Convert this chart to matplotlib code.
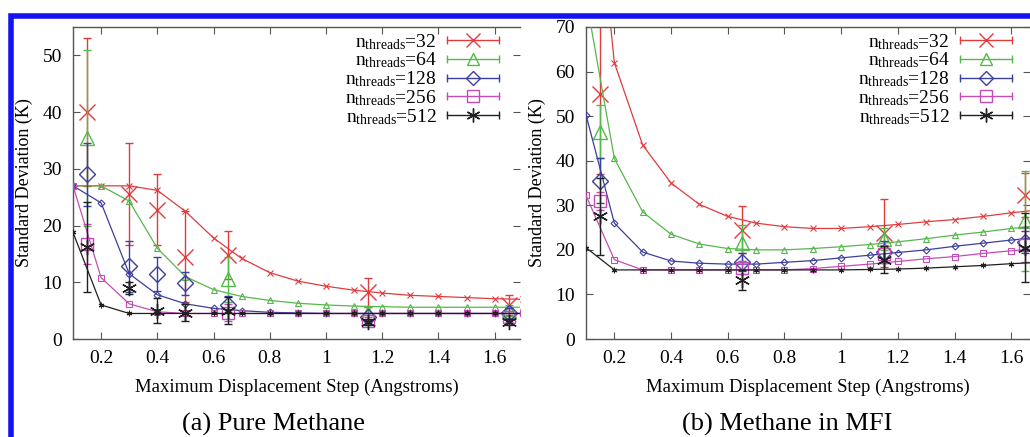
import matplotlib
matplotlib.use('Agg')
import matplotlib.pyplot as plt
from matplotlib.lines import Line2D
from matplotlib.patches import Rectangle
from matplotlib.legend_handler import HandlerLine2D, HandlerTuple

# step sizes used for the fitted curves
steps = [0.1, 0.2, 0.3, 0.4, 0.5, 0.6, 0.7, 0.8, 0.9, 1.0, 1.1, 1.2, 1.3, 1.4, 1.5, 1.6, 1.7]
thread_counts = [32, 64, 128, 256, 512]

# (a) pure methane, curves
pure_32 = [27, 27, 27, 26.2, 22.5, 17.8, 14.2, 11.7, 10.2, 9.3, 8.6, 8.1, 7.7, 7.5, 7.3, 7.1, 7.0]
pure_64 = [27, 27, 24.3, 16, 11, 8.7, 7.5, 6.8, 6.3, 6.0, 5.8, 5.7, 5.6, 5.6, 5.6, 5.6, 5.6]
pure_128 = [27, 24, 11.5, 7.8, 6.2, 5.4, 5.0, 4.7, 4.6, 4.5, 4.5, 4.5, 4.5, 4.5, 4.5, 4.5, 4.5]
pure_256 = [27, 10.8, 6.2, 4.8, 4.5, 4.5, 4.5, 4.5, 4.5, 4.5, 4.5, 4.5, 4.5, 4.5, 4.5, 4.5, 4.5]
pure_512 = [18.8, 6.0, 4.5, 4.5, 4.5, 4.5, 4.5, 4.5, 4.5, 4.5, 4.5, 4.5, 4.5, 4.5, 4.5, 4.5, 4.5]

# (a) pure methane, measured points with error bars
pure_x_full = [0.15, 0.3, 0.4, 0.5, 0.65, 1.15, 1.65]
pure_x_part = [0.15, 0.65, 1.15, 1.65]
pure_meas_32 = [40, 25.5, 22.8, 14.5, 14.8, 8.2, 6.0]
pure_err_32 = [13, 9, 6.2, 8, 4.2, 2.5, 1.8]
pure_meas_64 = [35.5, 10.5, 4.5, 5.0]
pure_err_64 = [15.5, 4, 1.2, 1]
pure_meas_128 = [29, 12.8, 11.5, 9.8, 6.0, 3.8, 4.5]
pure_err_128 = [5.5, 4.5, 3, 2, 1.5, 0.8, 1]
pure_meas_256 = [16.7, 4.6, 3.2, 3.8]
pure_err_256 = [3.5, 1.5, 0.6, 0.8]
pure_meas_512 = [16.2, 9.0, 5.0, 4.6, 5.0, 3.0, 3.0]
pure_err_512 = [7.9, 1, 2.2, 1.5, 2.4, 0.5, 0.6]

# (b) methane in MFI, curves
mfi_32 = [125, 62, 43.5, 35, 30.2, 27.5, 26, 25.2, 24.8, 24.8, 25.2, 25.7, 26.3, 26.8, 27.5, 28.3, 29]
mfi_64 = [76.5, 40.5, 28.5, 23.5, 21.3, 20.3, 20, 20, 20.3, 20.7, 21.2, 21.8, 22.5, 23.3, 24, 24.8, 25.5]
mfi_128 = [50.3, 26, 19.5, 17.5, 17, 16.8, 16.8, 17.2, 17.6, 18.2, 18.8, 19.4, 20, 20.8, 21.5, 22.2, 22.8]
mfi_256 = [32.2, 17.8, 15.5, 15.5, 15.5, 15.5, 15.5, 15.5, 15.8, 16.3, 16.8, 17.4, 18, 18.5, 19.2, 19.8, 20.3]
mfi_512 = [20.5, 15.5, 15.5, 15.5, 15.5, 15.5, 15.5, 15.5, 15.5, 15.5, 15.6, 15.7, 15.9, 16.2, 16.5, 16.9, 17.2]

# (b) methane in MFI, measured points
mfi_x = [0.15, 0.65, 1.15, 1.65]
mfi_meas_32 = [55, 24.5, 23.8, 32.3]
mfi_err_32 = [18, 5.3, 7.7, 5]
mfi_meas_64 = [46.5, 21.5, 22.5, 26.5]
mfi_err_64 = [6, 4, 2.5, 11.3]
mfi_meas_128 = [35.5, 17.3, 19.5, 21.7]
mfi_err_128 = [5, 2, 2.5, 2.5]
mfi_meas_256 = [31, 16, 19, 21.2]
mfi_err_256 = [2, 1.5, 2, 4]
mfi_meas_512 = [27.5, 13.3, 17.8, 20.5]
mfi_err_512 = [8.7, 2.2, 3, 7.7]

colors = ['#e23b3e', '#55b84a', '#3b3f9e', '#c44db5', '#202020']
markers = ['x', '^', 'D', 's', (6, 2, 0)]
big_sizes = [11, 10, 8, 9, 11]
small_sizes = [4, 4, 3.5, 4, 4]

plt.rcParams['font.family'] = 'Liberation Serif'
plt.rcParams['mathtext.fontset'] = 'custom'
plt.rcParams['mathtext.rm'] = 'Liberation Serif'
plt.rcParams['mathtext.it'] = 'Liberation Serif:italic'

W, H = 1030, 437


def draw_panel(fig, rect, xlim, ylim, yticks, curves, meas, legend_x):
    ax = fig.add_axes(rect)
    handles = []
    for i in range(5):
        c = colors[i]
        ax.plot(steps, curves[i], color=c, lw=0.9, marker=markers[i], ms=small_sizes[i],
                mfc='none', mew=0.8, zorder=2 + i)
        mx, my, me = meas[i]
        ax.errorbar(mx, my, yerr=me, fmt='none', ecolor=c, elinewidth=1.0, capsize=3,
                    capthick=1.0, zorder=2 + i)
        ax.plot(mx, my, ls='none', color=c, marker=markers[i], ms=big_sizes[i],
                mfc='none', mew=1.0, zorder=2 + i)
        line = Line2D([], [], color=c, lw=1.0, marker=markers[i], ms=big_sizes[i] - 1,
                      mfc='none', mew=1.0)
        caps = Line2D([], [], color=c, lw=0, marker='|', ms=6, mew=1.0)
        handles.append((line, caps))
    labels = [r'$\mathrm{n}_{\mathrm{threads}}$=' + str(n) for n in thread_counts]
    hmap = {}
    for line, caps in handles:
        hmap[caps] = HandlerLine2D(numpoints=2, marker_pad=0)
    hmap[tuple] = HandlerTuple(ndivide=1, pad=0)
    ax.legend(handles, labels, handler_map=hmap, loc='upper right',
              bbox_to_anchor=(legend_x, 0.984), frameon=False, markerfirst=False,
              fontsize=14, handlelength=2.65, handletextpad=0.55, labelspacing=-0.05,
              borderpad=0, borderaxespad=0)
    ax.set_xlim(*xlim)
    ax.set_ylim(*ylim)
    ax.set_xticks([0.2, 0.4, 0.6, 0.8, 1.0, 1.2, 1.4, 1.6])
    ax.set_xticklabels(['0.2', '0.4', '0.6', '0.8', '1', '1.2', '1.4', '1.6'])
    ax.set_yticks(yticks)
    ax.tick_params(direction='in', length=5, width=0.8, top=True, right=True,
                   labelsize=14, pad=8, color='#555555')
    for s in ['left', 'bottom', 'top']:
        ax.spines[s].set_color('#555555')
        ax.spines[s].set_linewidth(1.0)
    ax.spines['right'].set_visible(False)
    ax.set_xlabel('Maximum Displacement Step (Angstroms)', fontsize=13.5, labelpad=8)
    ax.set_ylabel('Standard Deviation (K)', fontsize=13, labelpad=7)
    return ax


def main():
    fig = plt.figure(figsize=(W / 100, H / 100), dpi=100)
    fig.patch.set_facecolor('white')

    curves_a = [pure_32, pure_64, pure_128, pure_256, pure_512]
    meas_a = [(pure_x_full, pure_meas_32, pure_err_32),
              (pure_x_part, pure_meas_64, pure_err_64),
              (pure_x_full, pure_meas_128, pure_err_128),
              (pure_x_part, pure_meas_256, pure_err_256),
              (pure_x_full, pure_meas_512, pure_err_512)]
    rect_a = [73 / W, (H - 339) / H, (520 - 73) / W, (339 - 27) / H]
    draw_panel(fig, rect_a, (0.1, 1.69), (0, 55), [0, 10, 20, 30, 40, 50],
               curves_a, meas_a, 0.953)

    curves_b = [mfi_32, mfi_64, mfi_128, mfi_256, mfi_512]
    meas_b = [(mfi_x, mfi_meas_32, mfi_err_32),
              (mfi_x, mfi_meas_64, mfi_err_64),
              (mfi_x, mfi_meas_128, mfi_err_128),
              (mfi_x, mfi_meas_256, mfi_err_256),
              (mfi_x, mfi_meas_512, mfi_err_512)]
    rect_b = [586 / W, (H - 339) / H, (1030 - 586) / W, (339 - 27) / H]
    draw_panel(fig, rect_b, (0.1, 1.666), (0, 70), [0, 10, 20, 30, 40, 50, 60, 70],
               curves_b, meas_b, 0.959)

    fig.text(274 / W, 1 - 424 / H, '(a) Pure Methane', ha='center', va='center', fontsize=19)
    fig.text(787 / W, 1 - 424 / H, '(b) Methane in MFI', ha='center', va='center', fontsize=19)

    frame = Rectangle((10.5 / W, -0.2), 1.5, 1.2 - 15.5 / H, transform=fig.transFigure,
                      fill=False, edgecolor='#1414f0', lw=4, clip_on=False)
    fig.add_artist(frame)

    fig.savefig('out.png', dpi=100)


if __name__ == '__main__':
    main()
